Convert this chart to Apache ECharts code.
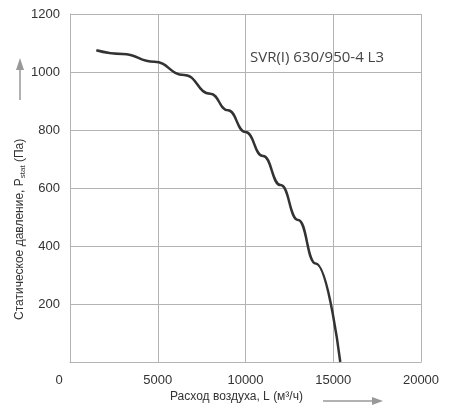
<!DOCTYPE html><html><head><meta charset="utf-8">
<script src="https://cdn.jsdelivr.net/npm/echarts@6/dist/echarts.min.js"></script>
<style>html,body{margin:0;background:#fff}#c{width:450px;height:418px}</style></head><body><div id="c"></div>
<script>
const flow = [1500, 3000, 4800, 6500, 8000, 9000, 10000, 11000, 12000, 13000, 14000, 15400];
const pressure = [1075, 1062, 1035, 990, 925, 868, 793, 710, 610, 490, 340, 0];
const xTicks = [0, 5000, 10000, 15000, 20000];
const yTicks = [200, 400, 600, 800, 1000, 1200];
const label = 'SVR(I) 630/950-4 L3';
const chart = echarts.init(document.getElementById('c'));
const f = 'Arial, Liberation Sans, sans-serif';
chart.setOption({
  animation:false,
  grid:{left:70,right:29,top:14,bottom:56},
  xAxis:{type:'value',min:0,max:20000,interval:5000,
    axisLine:{lineStyle:{color:'#b3b3b3'}},axisTick:{show:false},
    splitLine:{lineStyle:{color:'#b3b3b3'}},
    axisLabel:{color:'#333',fontSize:13,fontFamily:f,margin:12,
      formatter:v=>xTicks.includes(v)?(v===0?'0      ':String(v)):''}},
  yAxis:{type:'value',min:0,max:1200,interval:200,
    axisLine:{show:true,lineStyle:{color:'#b3b3b3'}},axisTick:{show:false},
    splitLine:{lineStyle:{color:'#b3b3b3'}},
    axisLabel:{color:'#333',fontSize:13,fontFamily:f,margin:10,
      formatter:v=>yTicks.includes(v)?String(v):''}},
  series:[{type:'line',smooth:0.5,smoothMonotone:'x',showSymbol:false,
    data:flow.map((x,i)=>[x,pressure[i]]),
    lineStyle:{color:'#333',width:2.5}}],
  graphic:[
    {type:'text',left:250,top:50,style:{text:label,fontSize:15,fontFamily:'Open Sans, sans-serif',fill:'#444'}},
    {type:'text',left:170,top:391,style:{text:'Расход воздуха, L (м³/ч)',fontSize:12,fontFamily:f,fill:'#333'}},
    {type:'line',shape:{x1:323,y1:401,x2:380,y2:401},style:{stroke:'#999',lineWidth:1.5}},
    {type:'polygon',shape:{points:[[372,397],[383,401],[372,405]]},style:{fill:'#999'}},
    {type:'text',x:13,y:320,rotation:Math.PI/2,style:{
      text:'Статическое давление, P{s|stat} (Па)',fontSize:12,fontFamily:f,fill:'#333',
      rich:{s:{fontSize:8,fontFamily:f,fill:'#333',padding:[6,0,0,0]}}}},
    {type:'line',shape:{x1:20,y1:100,x2:20,y2:62},style:{stroke:'#999',lineWidth:1.5}},
    {type:'polygon',shape:{points:[[16,70],[20,58],[24,70]]},style:{fill:'#999'}}
  ]
});
</script></body></html>
